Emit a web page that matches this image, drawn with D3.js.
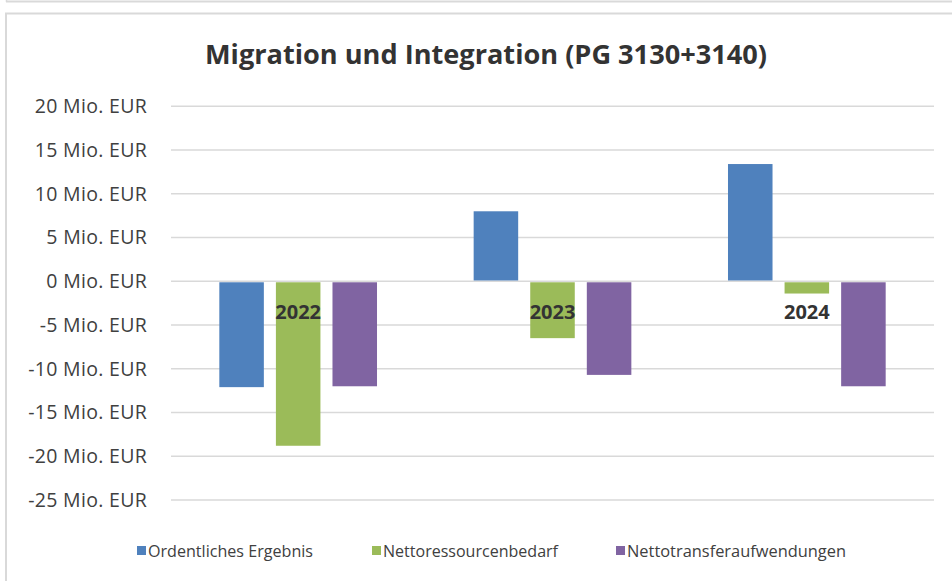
<!DOCTYPE html>
<html>
    <head>
        <meta charset="utf-8">
        <title>Migration und Integration</title>
        <style>
            html, body { margin: 0; padding: 0; background: #fff; }
            svg { display: block; }
        </style>
        <script src="https://cdn.jsdelivr.net/npm/d3@7"></script>
    </head>
    <body>
        <div id="chart"></div>
        <script type="text/javascript">
            // data (Mio. EUR)
            var years = ["2022", "2023", "2024"];
            var seriesNames = ["Ordentliches Ergebnis", "Nettoressourcenbedarf", "Nettotransferaufwendungen"];
            var ordentlichesErgebnis = [-12.1, 8.0, 13.4];
            var nettoressourcenbedarf = [-18.8, -6.5, -1.4];
            var nettotransfer = [-12.0, -10.7, -12.0];
            var yTicks = [20, 15, 10, 5, 0, -5, -10, -15, -20, -25];
            var colors = ["#4F81BD", "#9BBB59", "#8064A2"];

            var allSeries = [ordentlichesErgebnis, nettoressourcenbedarf, nettotransfer];

            var w = 952, h = 581;
            var svg = d3.select("#chart").append("svg")
                .attr("width", w)
                .attr("height", h);

            // frame lines
            svg.append("line")
                .attr("x1", 6).attr("x2", w).attr("y1", 1.5).attr("y2", 1.5)
                .attr("stroke", "#d9d9d9").attr("stroke-width", 2);
            svg.append("line")
                .attr("x1", 6.5).attr("x2", 6.5).attr("y1", 0).attr("y2", 2)
                .attr("stroke", "#d9d9d9").attr("stroke-width", 1.5);
            svg.append("rect")
                .attr("x", 6).attr("y", 13.5)
                .attr("width", w + 10).attr("height", h)
                .attr("fill", "none")
                .attr("stroke", "#d9d9d9").attr("stroke-width", 2);

            var plotLeft = 171, plotRight = 934, plotTop = 106.3, plotBottom = 500;

            var y = d3.scaleLinear().domain([-25, 20]).range([plotBottom, plotTop]);
            var x0 = d3.scaleBand().domain(years).range([plotLeft, plotRight]).paddingInner(0.38).paddingOuter(0.19);
            var x1 = d3.scaleBand().domain(d3.range(3)).range([0, x0.bandwidth()]).paddingInner(0.213).paddingOuter(0);

            // gridlines
            svg.append("g").selectAll("line")
                .data(yTicks)
                .enter()
                .append("line")
                .attr("x1", plotLeft).attr("x2", plotRight)
                .attr("y1", d => y(d)).attr("y2", d => y(d))
                .attr("stroke", "#d9d9d9")
                .attr("stroke-width", 1.5);

            // y axis labels
            var yAxis = d3.axisLeft(y)
                .tickValues(yTicks)
                .tickSize(0)
                .tickPadding(0)
                .tickFormat(d => d + " Mio. EUR");
            var gy = svg.append("g")
                .attr("transform", "translate(147,0)")
                .call(yAxis);
            gy.select(".domain").remove();
            gy.selectAll("text")
                .attr("font-family", "'Open Sans', sans-serif")
                .attr("font-size", 19.5)
                .attr("letter-spacing", 0.3)
                .attr("fill", "#404040");

            // bars
            var groups = svg.append("g").selectAll("g")
                .data(years)
                .enter()
                .append("g")
                .attr("transform", d => "translate(" + x0(d) + ",0)");

            groups.selectAll("rect")
                .data((d, i) => allSeries.map((s, k) => ({ k: k, v: s[i] })))
                .enter()
                .append("rect")
                .attr("x", d => x1(d.k))
                .attr("width", x1.bandwidth())
                .attr("y", d => d.v >= 0 ? y(d.v) : y(0) + 1)
                .attr("height", d => Math.abs(y(d.v) - y(0)) - (d.v >= 0 ? 0.8 : 1))
                .attr("fill", d => colors[d.k]);

            // category labels next to zero line
            svg.append("g").selectAll("text")
                .data(years)
                .enter()
                .append("text")
                .attr("x", d => x0(d) + x0.bandwidth() / 2)
                .attr("y", y(0) + 38)
                .attr("text-anchor", "middle")
                .attr("font-family", "'Open Sans', sans-serif")
                .attr("font-weight", "bold")
                .attr("font-size", 20)
                .attr("fill", "#333333")
                .text(d => d);

            // title
            svg.append("text")
                .attr("x", 486)
                .attr("y", 64)
                .attr("text-anchor", "middle")
                .attr("font-family", "'Open Sans', sans-serif")
                .attr("font-weight", "bold")
                .attr("font-size", 26)
                .attr("fill", "#333333")
                .attr("textLength", 562)
                .attr("lengthAdjust", "spacingAndGlyphs")
                .text("Migration und Integration (PG 3130+3140)");

            // legend
            var legendX = [137, 372, 616];
            var legendW = [165, 175, 219];
            var legend = svg.append("g").selectAll("g")
                .data(seriesNames)
                .enter()
                .append("g")
                .attr("transform", (d, i) => "translate(" + legendX[i] + ",551)");
            legend.append("rect")
                .attr("x", 0).attr("y", -5)
                .attr("width", 9).attr("height", 9)
                .attr("fill", (d, i) => colors[i]);
            legend.append("text")
                .attr("x", 11)
                .attr("y", 6)
                .attr("font-family", "'Open Sans', sans-serif")
                .attr("font-size", 16)
                .attr("fill", "#404040")
                .attr("textLength", (d, i) => legendW[i])
                .attr("lengthAdjust", "spacingAndGlyphs")
                .text(d => d);
        </script>
    </body>
</html>
